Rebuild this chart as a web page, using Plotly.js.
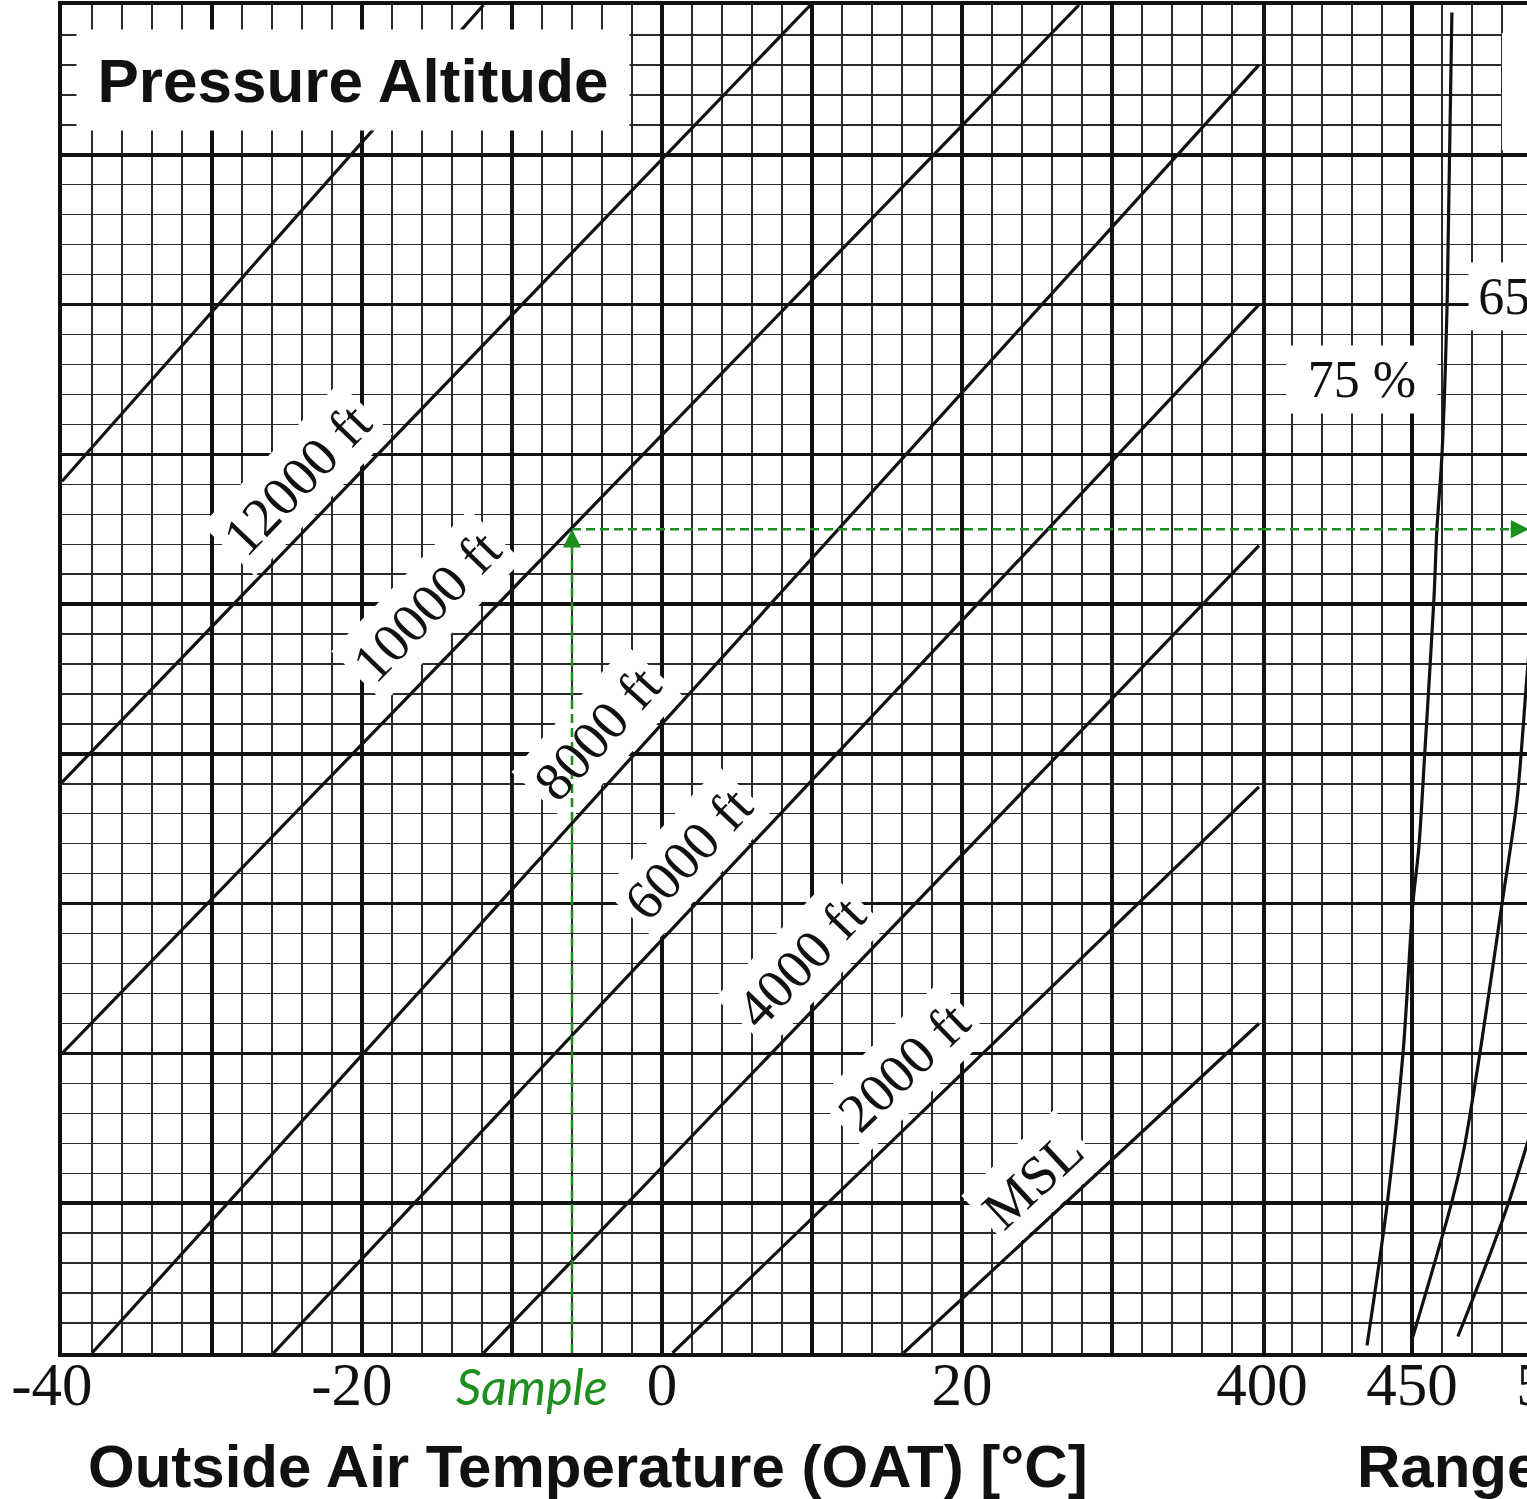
<!DOCTYPE html>
<html><head><meta charset="utf-8">
<script src="https://cdn.plot.ly/plotly-3.0.1.min.js"></script>
<style>
html,body{margin:0;padding:0;background:#fff;overflow:hidden}
#wrap{width:1527px;height:1499px;overflow:hidden;position:relative}
</style></head>
<body><div id="wrap"><div id="chart"></div></div>
<script>
// ---------- data ----------
// tick labels
const oatTickVals = [-40, -30, -20, -10, 0, 10, 20, 30, 40];
const oatTickText = ['-40\u2004', '', '-20\u2004', '', '0', '', '20', '', ''];
const rangeTickVals = [400, 450, 500];
const rangeTickText = ['400', '450', '500'];

// pressure altitude lines: OAT [°C] vs. chart ordinate (major divisions)
const altNames    = ['MSL', '2000 ft', '4000 ft', '6000 ft', '8000 ft', '10000 ft', '12000 ft', '14000 ft'];
const altOatStart = [16.1, 0.7, -11.9, -25.9, -38.0, -40, -40, -40];
const altYStart   = [0, 0, 0, 0, 0, 2.00, 3.81, 5.82];
const altOatEnd   = [39.8, 39.8, 39.8, 39.8, 39.8, 27.8, 9.9, -11.9];
const altYEnd     = [2.20, 3.78, 5.39, 7.00, 8.60, 9, 9, 9];

// power-setting curves in the range panel
const pct75Range = [463.3, 462.0, 461.7, 460.0, 458.3, 457.3, 454.3, 452.3, 450.3, 447.0, 441.7, 435.0];
const pct75Y     = [8.95, 7.36, 7.00, 6.00, 5.50, 5.03, 4.02, 3.38, 3.00, 2.00, 0.99, 0.05];
const pct65Range = [492.7, 488.7, 485.0, 480.0, 472.7, 467.3, 463.3, 450.3];
const pct65Y     = [5.43, 4.61, 3.69, 3.00, 2.01, 1.36, 1.01, 0.11];
const pct55Range = [492.7, 488.3, 482.3, 474.7, 465.3];
const pct55Y     = [1.69, 1.39, 1.01, 0.59, 0.11];

// sample reading
const sampleOAT = -6;
const sampleY = 5.5;
const sampleRangeEnd = 489;

// ---------- layout / style (not data) ----------
const INK = '#111111';
const GREEN = '#1c8f1c';
const plotL = 62, plotT = 5, plotB = 146, totalW = 1622, totalH = 1499, plotR = 60;
const plotW = totalW - plotL - plotR;           // 1500
const plotH = totalH - plotT - plotB;           // 1348
const splitFrac = 0.8;
const pxPerC = plotW * splitFrac / (40 - (-40));
const pxPerY = plotH / 9;
function x2px(x) { return plotL + (x + 40) * pxPerC; }
function y2py(y) { return plotT + plotH - y * pxPerY; }
function px2x(px) { return -40 + (px - plotL) / pxPerC; }
function py2y(py) { return (plotT + plotH - py) / pxPerY; }

// label placement (centre of each label, data units) for altitude lines 0..6
const altLabelX = [24.67, 16.07, 9.2, 1.73, -4.33, -15.73, -24.33];
const altLabelY = [1.155, 1.909, 2.610, 3.338, 4.133, 4.987, 5.829];
const LABEL_SIZE = 55;

const traces = [];
for (let i = 0; i < altNames.length; i++) {
  traces.push({
    x: [altOatStart[i], altOatEnd[i]], y: [altYStart[i], altYEnd[i]],
    xaxis: 'x', yaxis: 'y', mode: 'lines', name: altNames[i],
    line: {color: INK, width: 3.2}, hoverinfo: 'skip'
  });
}
[[pct75Range, pct75Y, '75 %'], [pct65Range, pct65Y, '65 %'], [pct55Range, pct55Y, '55 %']].forEach(c => {
  traces.push({
    x: c[0], y: c[1], xaxis: 'x2', yaxis: 'y2', mode: 'lines', name: c[2],
    line: {color: INK, width: 3.2, shape: 'spline', smoothing: 0.8}, hoverinfo: 'skip'
  });
});

const serif = 'Liberation Serif, Times New Roman, serif';
const sans = 'Liberation Sans, Arial, sans-serif';

function lineAngle(i) {
  const slopePx = ((altYEnd[i] - altYStart[i]) * pxPerY) / ((altOatEnd[i] - altOatStart[i]) * pxPerC);
  return Math.atan(slopePx);
}

const shapes = [{
  type: 'rect', xref: 'x2', yref: 'y2', x0: 480, x1: 500, y0: 8.03, y1: 8.813,
  fillcolor: 'white', line: {width: 0}, layer: 'above'
}];

// the 8000 ft label sits under the sample line: its white box is a shape so the
// dashed sample line can be drawn on top of it
const SPECIAL = 4;
(function () {
  const a = lineAngle(SPECIAL);
  const cx = x2px(altLabelX[SPECIAL]), cy = y2py(altLabelY[SPECIAL]);
  const pad = 7;
  const w = 2.861 * LABEL_SIZE + 2 * pad, h = 1.12 * LABEL_SIZE + 2 * pad;
  const u = [Math.cos(a), -Math.sin(a)], v = [Math.sin(a), Math.cos(a)];
  const pts = [[-1, -1], [1, -1], [1, 1], [-1, 1]].map(s => [
    px2x(cx + s[0] * u[0] * w / 2 + s[1] * v[0] * h / 2),
    py2y(cy + s[0] * u[1] * w / 2 + s[1] * v[1] * h / 2)
  ]);
  shapes.push({
    type: 'path', xref: 'x', yref: 'y', layer: 'above', fillcolor: 'white', line: {width: 0},
    path: 'M' + pts.map(p => p[0].toFixed(4) + ',' + p[1].toFixed(4)).join('L') + 'Z'
  });
})();

// dashed sample path
const dash = {color: GREEN, width: 2.6, dash: '9px,5px'};
shapes.push({type: 'line', xref: 'x', yref: 'y', x0: sampleOAT, y0: 0, x1: sampleOAT, y1: sampleY, line: dash, layer: 'above'});
shapes.push({type: 'line', xref: 'x', yref: 'y', x0: sampleOAT, y0: sampleY, x1: 40, y1: sampleY, line: dash, layer: 'above'});
shapes.push({type: 'line', xref: 'x2', yref: 'y2', x0: 400, y0: sampleY, x1: sampleRangeEnd, y1: sampleY, line: dash, layer: 'above'});

const annotations = [];
for (let i = 0; i < 7; i++) {
  annotations.push({
    xref: 'x', yref: 'y', x: altLabelX[i], y: altLabelY[i], text: altNames[i],
    showarrow: false, textangle: -lineAngle(i) * 180 / Math.PI,
    bgcolor: i === SPECIAL ? 'rgba(0,0,0,0)' : 'white', borderpad: 6,
    font: {family: serif, size: LABEL_SIZE, color: INK}
  });
}
annotations.push({
  xref: 'x', yref: 'y', x: -20.6, y: 8.479, yshift: 3, text: 'Pressure Altitude', showarrow: false,
  width: 552, height: 100, bgcolor: 'white', borderpad: 0,
  font: {family: sans, size: 62, color: INK, weight: 'bold'}
});
annotations.push({
  xref: 'x2', yref: 'y', x: 433.3, y: 6.50, text: '75 %', showarrow: false,
  width: 150, height: 67, bgcolor: 'white', borderpad: 0,
  font: {family: serif, size: 52, color: INK}
});
annotations.push({
  xref: 'x2', yref: 'y', x: 490.2, y: 7.057, text: '65 %', showarrow: false,
  width: 127, height: 67, bgcolor: 'white', borderpad: 0,
  font: {family: serif, size: 52, color: INK}
});
annotations.push({
  xref: 'x', yref: 'paper', x: -38.4, y: 0, xanchor: 'left', yanchor: 'middle', yshift: -113,
  text: 'Outside Air Temperature (OAT) [°C]', showarrow: false,
  font: {family: sans, size: 60, color: INK, weight: 'bold'}
});
annotations.push({
  xref: 'x2', yref: 'paper', x: 431, y: 0, xanchor: 'left', yanchor: 'middle', yshift: -113,
  text: 'Range', showarrow: false,
  font: {family: sans, size: 60, color: INK, weight: 'bold'}
});
annotations.push({
  xref: 'x', yref: 'paper', x: -8.67, y: 0, yanchor: 'middle', yshift: -33,
  text: 'Sample', showarrow: false,
  font: {family: 'Lato, Open Sans, sans-serif', size: 50, color: GREEN, style: 'italic'}
});
annotations.push({
  xref: 'x', yref: 'y', x: sampleOAT, y: sampleY, text: '', showarrow: true,
  ax: 0, ay: 20, arrowhead: 2, arrowsize: 1.4, arrowwidth: 2.6, arrowcolor: GREEN, standoff: 0
});
annotations.push({
  xref: 'x2', yref: 'y2', x: sampleRangeEnd, y: sampleY, text: '', showarrow: true,
  ax: -20, ay: 0, arrowhead: 2, arrowsize: 1.4, arrowwidth: 2.6, arrowcolor: GREEN, standoff: 0
});

const gridMajor = {showgrid: true, gridcolor: INK, gridwidth: 3.5};
const minorStyle = {showgrid: true, gridcolor: '#2b2b2b', gridwidth: 1.4};
const yBase = Object.assign({
  range: [0, 9], tickmode: 'linear', tick0: 0, dtick: 1, showticklabels: false, ticks: '',
  zeroline: false, fixedrange: true,
  minor: Object.assign({tick0: 0, dtick: 0.2}, minorStyle)
}, gridMajor);

const layout = {
  width: totalW, height: totalH,
  margin: {l: plotL, r: plotR, t: plotT, b: plotB, pad: 0},
  paper_bgcolor: 'white', plot_bgcolor: 'white', showlegend: false,
  xaxis: Object.assign({
    domain: [0, splitFrac], range: [-40, 40], anchor: 'y',
    tickmode: 'array', tickvals: oatTickVals, ticktext: oatTickText, ticks: '',
    ticklabelstandoff: -25,
    tickfont: {family: serif, size: 61, color: INK},
    showline: true, linewidth: 4, linecolor: INK, mirror: true, zeroline: false, fixedrange: true,
    minor: Object.assign({tick0: -40, dtick: 2}, minorStyle)
  }, gridMajor),
  xaxis2: Object.assign({
    domain: [splitFrac, 1], range: [400, 500], anchor: 'y2',
    tickmode: 'array', tickvals: rangeTickVals, ticktext: rangeTickText, ticks: '',
    ticklabelstandoff: -25,
    tickfont: {family: serif, size: 61, color: INK},
    showline: true, linewidth: 4, linecolor: INK, mirror: true, zeroline: false, fixedrange: true,
    minor: Object.assign({tick0: 400, dtick: 10}, minorStyle)
  }, gridMajor),
  yaxis: Object.assign({}, yBase, {anchor: 'x', showline: true, linewidth: 4, linecolor: INK, mirror: true}),
  yaxis2: Object.assign({}, yBase, {anchor: 'x2', showline: false}),
  shapes: shapes,
  annotations: annotations
};

Plotly.newPlot('chart', traces, layout, {staticPlot: true, displayModeBar: false});
</script>
</body></html>
